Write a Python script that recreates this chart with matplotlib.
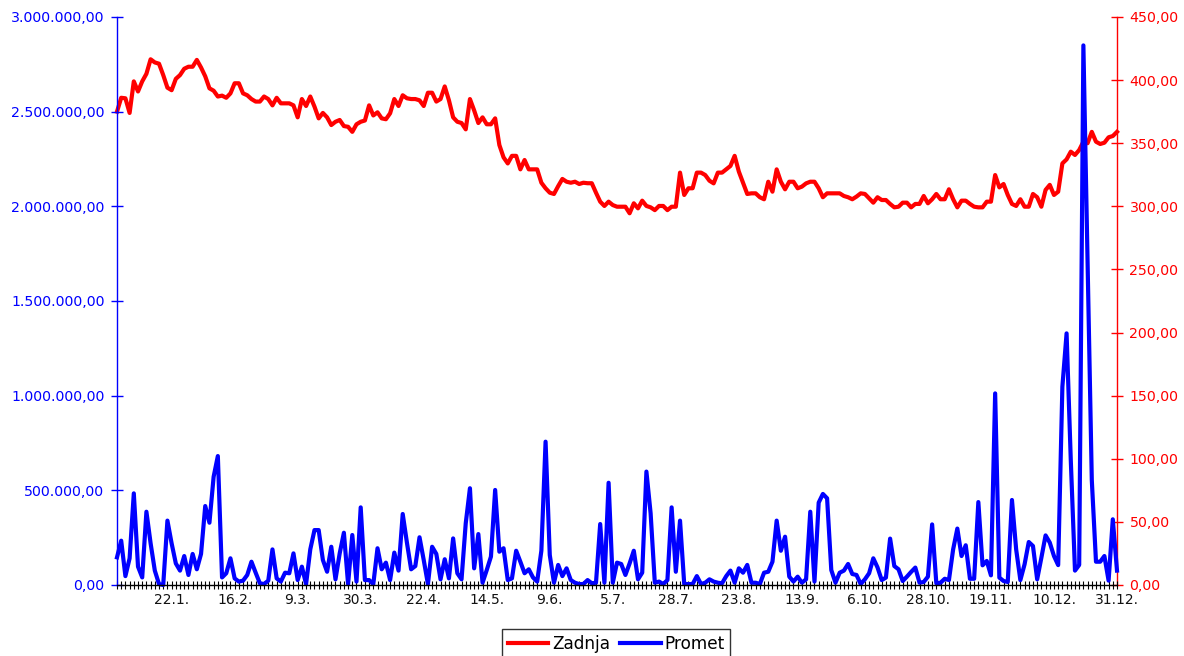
import matplotlib
matplotlib.use("Agg")
import matplotlib.pyplot as plt
from matplotlib.ticker import FuncFormatter, MultipleLocator
import numpy as np

# --- data -------------------------------------------------------------
zadnja = [
    375, 386, 385.6, 374, 399, 391, 399, 405, 416.5, 414, 413, 404, 394, 392, 401, 404, 409, 410.6, 410.6, 416,
    410, 403, 393.5, 391.6, 387, 387.7, 386, 389.5, 397.5, 397.5, 389.5, 388, 385, 383, 383, 387, 385, 380, 386, 381.6,
    381.6, 381.6, 380, 370.5, 385, 379.5, 387, 379, 369.7, 374, 370.5, 364.4, 367, 368.4, 363.6, 363, 359, 365, 367, 368,
    380, 372, 374.5, 369.7, 369, 373.7, 385, 379.5, 388, 385.6, 385, 385, 384, 379.5, 390, 390, 383, 385, 395, 384,
    370.5, 367, 366, 361, 385, 376,
    366, 370.5, 365, 365, 369.7, 348.6, 338.8, 334, 340, 340, 329.3, 336.7, 329.3, 329.3, 329.3, 318.7, 314.3, 310.8, 309.8, 316,
    321.7, 319.5, 318.7, 319.5, 317.7, 318.7, 318.3, 318.3, 310.8, 303.7, 300.3, 303.7, 301, 299.7, 299.7, 299.7, 294.5, 302.4, 298.4, 304.5,
    300.3, 299.2, 297, 300.3, 300.3, 297, 299.7, 299.7, 326.7, 309, 314.3, 314.3, 326.7, 326.7, 324.8, 320.3, 318.2, 326.7, 326.7, 329.3,
    332, 340, 327.5, 318.7, 309.8, 310.3, 310.3, 307.2, 305.6, 319.5, 311.6, 329.3, 319.5, 313.5, 319.5, 319.5, 314.3, 315.6, 318.2, 319.5,
    319.5, 314.3, 307.2, 310.3, 310.3, 310.3, 310.3, 308.2, 307.2, 305.6,
    307.7, 310.3, 309.8, 306.4, 302.9, 307.2, 305, 305, 301.9, 299.2, 299.7, 302.9, 302.9, 299.2, 301.9, 301.9, 308.2, 302.4, 305.6, 309.8,
    305.6, 305.6, 313.5, 305.6, 299.2, 304.5, 304.5, 301.9, 299.7, 299.2, 299.2, 303.7, 303.7, 324.8, 315, 317.7, 309, 301.9, 300.3, 305.6,
    299.7, 299.7, 309.8, 307.2, 299.7, 313, 317, 309, 311.6, 334, 337.2, 343.3, 340.7, 344.6, 351.2, 350, 359, 351.2, 349.4, 350.4,
    354.7, 355.7, 359,
]

promet = [
    146000, 234000, 47000, 141000, 484000, 97000, 40000, 387000, 220000, 76000,
    5000, 0, 340000, 220000, 114000, 76000, 153000, 53000, 164000, 83000,
    164000, 417000, 329000, 572000, 681000, 40000, 62000, 141000, 35000, 18000,
    23000, 53000, 123000, 65000, 9000, 5000, 23000, 188000, 35000, 18000,
    65000, 62000, 167000, 26000, 97000, 5000, 188000, 290000, 290000, 132000,
    70000, 202000, 30000, 167000, 276000, 5000, 264000, 18000, 410000, 26000,
    26000, 5000, 194000, 83000, 118000, 26000, 171000, 76000, 375000, 224000,
    83000, 100000, 252000, 132000, 5000, 202000, 164000, 30000, 136000, 35000,
    246000, 62000, 30000, 326000, 511000, 88000,
    269000, 12000, 79000, 150000, 502000, 176000, 194000, 26000, 35000, 181000,
    123000, 62000, 83000, 40000, 18000, 181000, 757000, 158000, 12000, 106000,
    47000, 88000, 26000, 12000, 5000, 5000, 26000, 9000, 12000, 322000,
    12000, 540000, 12000, 118000, 111000, 53000, 114000, 181000, 30000, 65000,
    599000, 379000, 12000, 18000, 5000, 26000, 410000, 70000, 340000, 5000,
    5000, 5000, 47000, 5000, 12000, 30000, 18000, 12000, 9000, 47000,
    76000, 12000, 88000, 65000, 106000, 12000, 12000, 5000, 65000, 70000,
    123000, 340000, 181000, 255000, 44000, 18000, 44000, 12000, 30000, 387000,
    18000, 435000, 481000, 458000, 79000, 12000, 65000, 76000, 111000, 58000,
    53000, 5000, 30000, 62000, 141000, 93000, 26000,
    39000, 245000, 100000, 83000, 21000, 44000, 69000, 92000, 12000, 16000,
    44000, 320000, 9000, 12000, 33000, 26000, 188000, 298000, 153000, 210000,
    33000, 33000, 438000, 104000, 127000, 51000, 1012000, 39000, 21000, 16000,
    449000, 188000, 26000, 109000, 227000, 206000, 30000, 144000, 262000, 224000,
    153000, 105000, 1047000, 1329000, 660000, 76000, 106000, 2850000, 1700000, 555000,
    123000, 123000, 153000, 23000, 347000, 76000,
]

tick_labels = ["22.1.", "16.2.", "9.3.", "30.3.", "22.4.", "14.5.", "9.6.", "5.7.",
               "28.7.", "23.8.", "13.9.", "6.10.", "28.10.", "19.11.", "10.12.", "31.12."]
label_step = 15

# --- figure -----------------------------------------------------------
plt.rcParams['font.family'] = ['DejaVu Sans']
W, H = 1184, 656
fig = plt.figure(figsize=(W / 100, H / 100), dpi=100)
L, R, T, B = 117, 1117, 17, 585
ax = fig.add_axes([L / W, 1 - B / H, (R - L) / W, (B - T) / H])
ax2 = ax.twinx()

n = len(promet)
x = np.arange(n)

blue = "#0000ff"
red = "#ff0000"

ax2.plot(x[:len(zadnja)], zadnja, color=red, lw=3.0, solid_joinstyle='round', clip_on=False, label="Zadnja")
ax.plot(x, promet, color=blue, lw=3.0, solid_joinstyle='round', clip_on=False, label="Promet")

ax.set_zorder(ax2.get_zorder() + 1)
ax.patch.set_visible(False)

ax.set_xlim(0, n - 1)
ax.set_ylim(0, 3_000_000)
ax2.set_ylim(0, 450)

def fmt_hr(v, pos=None):
    s = f"{v:,.2f}"
    return s.replace(",", "X").replace(".", ",").replace("X", ".")

ax.yaxis.set_major_locator(MultipleLocator(500_000))
ax.yaxis.set_major_formatter(FuncFormatter(fmt_hr))
ax2.yaxis.set_major_locator(MultipleLocator(50))
ax2.yaxis.set_major_formatter(FuncFormatter(fmt_hr))

# x ticks: one per trading day, label every 15th, ending at the last point
ax.set_xticks(x)
labels = [""] * n
label_idx = [n - 1 - label_step * k for k in range(len(tick_labels))][::-1]
for i, t in zip(label_idx, tick_labels):
    labels[i] = t
ax.set_xticklabels(labels)
ax.tick_params(axis='x', direction='inout', length=6, width=0.8, color='black',
               labelsize=10, pad=3, labelcolor='#111111')

ax.tick_params(axis='y', direction='inout', length=8, width=1, color=blue,
               labelcolor=blue, labelsize=10.2, pad=5)
ax2.tick_params(axis='y', direction='inout', length=8, width=1, color=red,
                labelcolor=red, labelsize=10.2, pad=5)

for a in (ax, ax2):
    a.spines['top'].set_visible(False)
ax.spines['right'].set_visible(False)
ax2.spines['left'].set_visible(False)
ax2.spines['bottom'].set_visible(False)
ax.spines['left'].set_color(blue)
ax.spines['left'].set_linewidth(1)
ax2.spines['right'].set_color(red)
ax2.spines['right'].set_linewidth(1)
ax.spines['bottom'].set_color('black')
ax.spines['bottom'].set_linewidth(1)

h1, l1 = ax2.get_legend_handles_labels()
h2, l2 = ax.get_legend_handles_labels()
leg = fig.legend(h1 + h2, l1 + l2, loc='upper center', bbox_to_anchor=(616 / W, 1 - 629 / H),
                 ncol=2, frameon=True, fancybox=False, shadow=False, fontsize=12.2,
                 handlelength=2.4, handletextpad=0.2, columnspacing=0.6, borderpad=0.35,
                 borderaxespad=0)
leg.get_frame().set_edgecolor('black')
leg.get_frame().set_linewidth(1)

fig.savefig("out.png", dpi=100)
